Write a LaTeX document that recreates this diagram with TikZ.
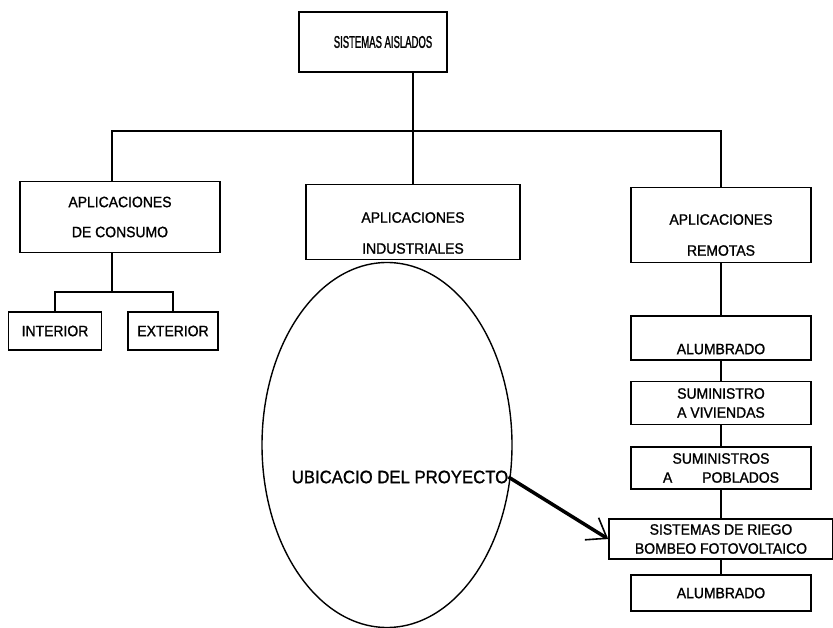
\documentclass[tikz,border=0pt]{standalone}
\usepackage{fontspec}
\setmainfont{Liberation Sans}[FakeStretch=0.93, FakeBold=1.2]
\newfontfamily\titlefont{Liberation Sans}[FakeStretch=0.56, FakeBold=1.2]
\usetikzlibrary{shapes.geometric,arrows.meta}

\begin{document}
\begin{tikzpicture}[x=1pt,y=-1pt]
  \tikzstyle{rbox} = [rectangle, draw=black, line width=1.6pt, align=center, inner sep=0pt, font=\fontsize{15}{30}\selectfont]
  \tikzstyle{tight} = [font=\fontsize{15}{19}\selectfont]
  \tikzstyle{low} = [align=center, font=\fontsize{15}{31}\selectfont, inner sep=0pt]
  \tikzstyle{link} = [line width=1.4pt]
  \tikzstyle{arrow} = [line width=3.5pt, -{Straight Barb[length=18pt,width=26pt,line width=1.6pt]}]

  \useasboundingbox (0,0) rectangle (833,628);

  \node (sist) [rbox, minimum width=148pt, minimum height=60pt,
    label={[font=\titlefont\fontsize{17}{19}\selectfont, inner sep=0pt, xshift=10pt]center:SISTEMAS AISLADOS}] at (373,42) {};
  \node (cons) [rbox, minimum width=200pt, minimum height=71pt] at (120,217) {APLICACIONES\\DE CONSUMO};
  \node (ind) [rbox, minimum width=214pt, minimum height=75pt,
    label={[low, yshift=-11pt]center:APLICACIONES\\INDUSTRIALES}] at (413,222) {};
  \node (rem) [rbox, minimum width=180pt, minimum height=75pt,
    label={[low, yshift=-10pt]center:APLICACIONES\\REMOTAS}] at (721,225) {};
  \node (int) [rbox, minimum width=93pt, minimum height=38pt] at (55,331) {INTERIOR};
  \node (ext) [rbox, minimum width=90pt, minimum height=38pt] at (173,331) {EXTERIOR};

  % columna de aplicaciones remotas
  \node (alum1) [rbox, minimum width=180pt, minimum height=44pt,
    label={[low, yshift=-11pt]center:ALUMBRADO}] at (721,338) {};
  \node (viv) [rbox, tight, minimum width=180pt, minimum height=43pt] at (721,403) {SUMINISTRO\\A VIVIENDAS};
  \node (pob) [rbox, tight, minimum width=180pt, minimum height=42pt] at (721,468) {SUMINISTROS\\A\hspace{30pt}POBLADOS};
  \node (riego) [rbox, tight, minimum width=224pt, minimum height=40pt] at (721,539) {SISTEMAS DE RIEGO\\BOMBEO FOTOVOLTAICO};
  \node (alum2) [rbox, minimum width=180pt, minimum height=36pt] at (721,593) {ALUMBRADO};

  \node (ubic) [ellipse, draw=black, line width=1.4pt, minimum width=250pt, minimum height=365pt, inner sep=0pt] at (387,445) {};
  \node (ubictxt) [font=\fontsize{18}{22}\selectfont, inner sep=0pt] at (400,477) {UBICACIO DEL PROYECTO};

  \coordinate (bus) at (0,131);
  \coordinate (split) at (0,292);
  \draw [link] (sist.south -| ind.north) -- (ind.north);
  \draw [link] ([xshift=-8pt]cons.north) -- ([xshift=-8pt]cons.north |- bus) -- (rem.north |- bus) -- (rem.north);
  \draw [link] ([xshift=-8pt]cons.south) -- ([xshift=-8pt]cons.south |- split);
  \draw [link] (int.north) -- (int.north |- split) -- (ext.north |- split) -- (ext.north);
  \draw [link] (rem) -- (alum1);
  \draw [link] (alum1) -- (viv);
  \draw [link] (viv) -- (pob);
  \draw [link] (pob) -- (riego);
  \draw [link] (riego) -- (alum2);
  \draw [arrow] (ubictxt.east) -- (riego.west);
\end{tikzpicture}
\end{document}
